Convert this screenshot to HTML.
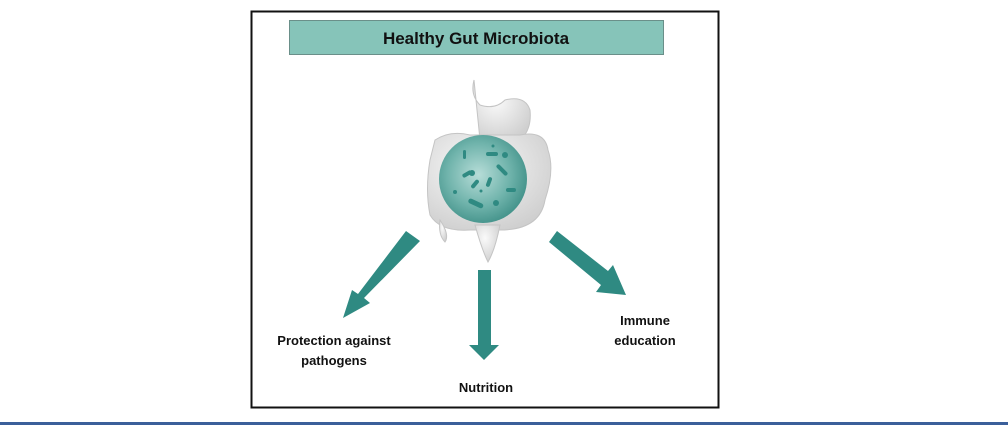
<!DOCTYPE html>
<html><head><style>
body{margin:0;background:#fff;width:1008px;height:425px;overflow:hidden;position:relative;font-family:"Liberation Sans",sans-serif}
</style></head><body>
<svg width="1008" height="425" style="position:absolute;left:0;top:0">
<defs>
<radialGradient id="g" cx="0.45" cy="0.45" r="0.6">
<stop offset="0" stop-color="#b7ddd8"/><stop offset="0.6" stop-color="#6fb3ab"/><stop offset="1" stop-color="#3f8f87"/>
</radialGradient>
<radialGradient id="gr" cx="0.4" cy="0.35" r="0.7">
<stop offset="0" stop-color="#fafafa"/><stop offset="1" stop-color="#cfcfcf"/>
</radialGradient>
</defs>
<rect x="251.5" y="11.5" width="467" height="396" fill="#fff" stroke="#111" stroke-width="2"/>
<rect x="289.5" y="20.5" width="374" height="34" fill="#86c4b9" stroke="#6a8f89" stroke-width="1"/>
<text x="476" y="44" font-size="17" font-weight="bold" text-anchor="middle" fill="#111">Healthy Gut Microbiota</text>
<!-- gut -->
<g fill="url(#gr)" stroke="#c4c4c4" stroke-width="1">
<path d="M474 80 Q470 95 480 105 Q495 110 505 100 Q525 95 530 110 Q532 130 520 140 L480 140 Z"/>
<path d="M435 140 Q450 130 470 135 L520 135 Q545 130 548 150 Q555 170 545 200 Q540 230 500 230 L470 230 Q440 232 430 215 Q425 190 430 160 Z"/>
<path d="M475 225 L500 225 Q495 250 488 262 Q482 250 475 225 Z"/>
<path d="M440 220 Q450 235 445 242 Q438 235 440 220 Z"/>
</g>
<circle cx="483" cy="179" r="44" fill="url(#g)"/>
<g fill="#2f8a82">
<rect x="462" y="172" width="10" height="4" rx="2" transform="rotate(-30 467 174)"/>
<rect x="486" y="152" width="12" height="4" rx="2"/>
<rect x="495" y="168" width="14" height="4" rx="2" transform="rotate(45 502 170)"/>
<rect x="468" y="201" width="16" height="5" rx="2.5" transform="rotate(25 476 203)"/>
<rect x="470" y="182" width="10" height="4" rx="2" transform="rotate(-50 475 184)"/>
<rect x="506" y="188" width="10" height="4" rx="2"/>
<rect x="484" y="180" width="10" height="4" rx="2" transform="rotate(-70 489 182)"/>
<circle cx="472" cy="173" r="3"/><circle cx="505" cy="155" r="3"/><circle cx="496" cy="203" r="3"/><circle cx="455" cy="192" r="2"/><circle cx="481" cy="191" r="1.5"/><circle cx="493" cy="146" r="1.5"/>
<rect x="463" y="150" width="3" height="9" rx="1.5"/>
</g>
<g fill="#2f8a82">
<polygon points="406,231 420,241 364,298 370,303 343,318 352,290 358,294"/>
<polygon points="478,270 491,270 491,345 499,345 484,360 469,345 478,345"/>
<polygon points="549,242 557,231 608,271 613,265 626,295 596,292 601,285"/>
</g>
<g font-size="13" font-weight="bold" fill="#111" text-anchor="middle">
<text x="334" y="345">Protection against</text>
<text x="334" y="365">pathogens</text>
<text x="486" y="392">Nutrition</text>
<text x="645" y="325">Immune</text>
<text x="645" y="345">education</text>
</g>
<rect x="0" y="422" width="1008" height="3" fill="#3b5f9a"/>
</svg>
</body></html>
